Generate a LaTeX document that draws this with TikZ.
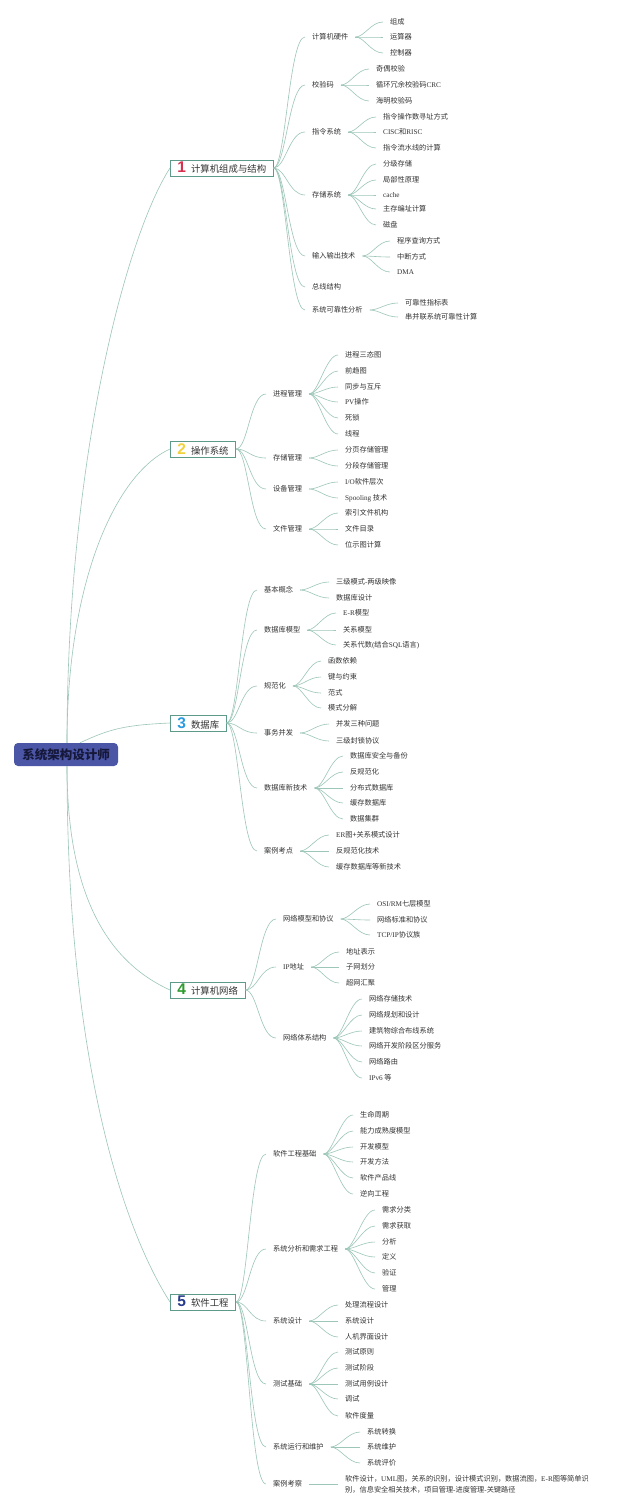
\documentclass[tikz,border=0pt]{standalone}
\usepackage{fontspec}
\setmainfont{Noto Sans CJK SC}
\newfontfamily\lat{Liberation Serif}
\newfontfamily\numf{Liberation Sans}
\definecolor{rootc}{HTML}{4B56A6}
\definecolor{roott}{HTML}{16183A}
\definecolor{boxc}{HTML}{5E9A8A}
\definecolor{linec}{HTML}{9CC6B8}
\definecolor{txtc}{HTML}{333333}
\definecolor{nA}{HTML}{D9304F}
\definecolor{nB}{HTML}{F2D23C}
\definecolor{nC}{HTML}{2B9BE0}
\definecolor{nD}{HTML}{2E9B2E}
\definecolor{nE}{HTML}{263A8A}
\tikzset{
  txt/.style={anchor=west, xshift=-7pt, inner xsep=7pt, inner ysep=1pt,
    font=\fontsize{7.2}{8.5}\selectfont, text=txtc},
  cat/.style={draw=boxc, line width=0.8pt, fill=white, anchor=west,
    minimum height=16pt, inner xsep=7pt, inner ysep=0pt,
    font=\fontsize{9.4}{11}\selectfont, text=txtc},
  rootbox/.style={fill=rootc, rounded corners=4pt, minimum width=104pt,
    minimum height=23pt, inner sep=0pt, text=roott,
    font=\fontsize{12.5}{14}\selectfont\bfseries},
  conn/.style={draw=linec, line width=0.6pt},
  cb/.style={out=0, in=180, out distance=12pt, in distance=16pt},
  lb/.style={out=0, in=180, out distance=9pt, in distance=12pt}
}
\newcommand\numb[2]{{\numf\bfseries\fontsize{15.5}{15}\selectfont\color{#1}#2}\hspace{5pt}}
\newcommand\subt[5]{\node[txt] (#2) at (#3,#4) {#5};\draw[conn] (#1.east) to[cb] (#2.west);}
\newcommand\lfn[5]{\node[txt] (#2) at (#3,#4) {#5};\draw[conn] (#1.east) to[lb] (#2.west);}
\begin{document}
\begin{tikzpicture}[x=1pt,y=-1pt]
\useasboundingbox (0,0) rectangle (640,1510);
\fill[white] (0,0) rectangle (640,1510);

% root
\node[rootbox] (root) at (66,754.5) {系统架构设计师};
\coordinate (rt) at ([xshift=1pt]root.north);
\coordinate (rt3) at ([xshift=14pt]root.north);
\coordinate (rb) at ([xshift=1pt]root.south);

% categories
\node[cat] (c1) at (170,168) {\numb{nA}{1}计算机组成与结构};
\node[cat] (c2) at (170,449) {\numb{nB}{2}操作系统};
\node[cat] (c3) at (170,723) {\numb{nC}{3}数据库};
\node[cat] (c4) at (170,990) {\numb{nD}{4}计算机网络};
\node[cat] (c5) at (170,1302) {\numb{nE}{5}软件工程};

\draw[conn] (rt) .. controls +(0,-280) and +(-45,70) .. (c1.west);
\draw[conn] (rt) .. controls +(0,-160) and +(-55,25) .. (c2.west);
\draw[conn] (rt3) .. controls +(30,-14) and +(-45,2) .. (c3.west);
\draw[conn] (rb) .. controls +(0,140) and +(-55,-25) .. (c4.west);
\draw[conn] (rb) .. controls +(0,300) and +(-45,-70) .. (c5.west);

% ---- section 1
\subt{c1}{s11}{312}{37}{计算机硬件}
\lfn{s11}{l111}{390}{22}{组成}
\lfn{s11}{l112}{390}{37}{运算器}
\lfn{s11}{l113}{390}{53}{控制器}
\subt{c1}{s12}{312}{85}{校验码}
\lfn{s12}{l121}{376}{69}{奇偶校验}
\lfn{s12}{l122}{376}{85}{循环冗余校验码{\lat CRC}}
\lfn{s12}{l123}{376}{101}{海明校验码}
\subt{c1}{s13}{312}{132}{指令系统}
\lfn{s13}{l131}{383}{117}{指令操作数寻址方式}
\lfn{s13}{l132}{383}{132}{{\lat CISC}和{\lat RISC}}
\lfn{s13}{l133}{383}{148}{指令流水线的计算}
\subt{c1}{s14}{312}{195}{存储系统}
\lfn{s14}{l141}{383}{164}{分级存储}
\lfn{s14}{l142}{383}{180}{局部性原理}
\lfn{s14}{l143}{383}{195}{{\lat cache}}
\lfn{s14}{l144}{383}{209}{主存编址计算}
\lfn{s14}{l145}{383}{225}{磁盘}
\subt{c1}{s15}{312}{256}{输入输出技术}
\lfn{s15}{l151}{397}{241}{程序查询方式}
\lfn{s15}{l152}{397}{257}{中断方式}
\lfn{s15}{l153}{397}{272}{{\lat DMA}}
\subt{c1}{s16}{312}{287}{总线结构}
\subt{c1}{s17}{312}{310}{系统可靠性分析}
\lfn{s17}{l171}{405}{303}{可靠性指标表}
\lfn{s17}{l172}{405}{317}{串并联系统可靠性计算}

% ---- section 2
\subt{c2}{s21}{273}{394}{进程管理}
\lfn{s21}{l211}{345}{355}{进程三态图}
\lfn{s21}{l212}{345}{371}{前趋图}
\lfn{s21}{l213}{345}{387}{同步与互斥}
\lfn{s21}{l214}{345}{402}{{\lat PV}操作}
\lfn{s21}{l215}{345}{418}{死锁}
\lfn{s21}{l216}{345}{434}{线程}
\subt{c2}{s22}{273}{458}{存储管理}
\lfn{s22}{l221}{345}{450}{分页存储管理}
\lfn{s22}{l222}{345}{466}{分段存储管理}
\subt{c2}{s23}{273}{489}{设备管理}
\lfn{s23}{l231}{345}{482}{{\lat I/O}软件层次}
\lfn{s23}{l232}{345}{498}{{\lat Spooling} 技术}
\subt{c2}{s24}{273}{529}{文件管理}
\lfn{s24}{l241}{345}{513}{索引文件机构}
\lfn{s24}{l242}{345}{529}{文件目录}
\lfn{s24}{l243}{345}{545}{位示图计算}

% ---- section 3
\subt{c3}{s31}{264}{590}{基本概念}
\lfn{s31}{l311}{336}{582}{三级模式{\lat -}两级映像}
\lfn{s31}{l312}{336}{598}{数据库设计}
\subt{c3}{s32}{264}{630}{数据库模型}
\lfn{s32}{l321}{343}{613}{{\lat E-R}模型}
\lfn{s32}{l322}{343}{630}{关系模型}
\lfn{s32}{l323}{343}{645}{关系代数{\lat (}结合{\lat SQL}语言{\lat )}}
\subt{c3}{s33}{264}{686}{规范化}
\lfn{s33}{l331}{328}{661}{函数依赖}
\lfn{s33}{l332}{328}{677}{键与约束}
\lfn{s33}{l333}{328}{693}{范式}
\lfn{s33}{l334}{328}{708}{模式分解}
\subt{c3}{s34}{264}{733}{事务并发}
\lfn{s34}{l341}{336}{724}{并发三种问题}
\lfn{s34}{l342}{336}{741}{三级封锁协议}
\subt{c3}{s35}{264}{788}{数据库新技术}
\lfn{s35}{l351}{350}{756}{数据库安全与备份}
\lfn{s35}{l352}{350}{772}{反规范化}
\lfn{s35}{l353}{350}{788}{分布式数据库}
\lfn{s35}{l354}{350}{803}{缓存数据库}
\lfn{s35}{l355}{350}{819}{数据集群}
\subt{c3}{s36}{264}{851}{案例考点}
\lfn{s36}{l361}{336}{835}{{\lat ER}图+关系模式设计}
\lfn{s36}{l362}{336}{851}{反规范化技术}
\lfn{s36}{l363}{336}{867}{缓存数据库等新技术}

% ---- section 4
\subt{c4}{s41}{283}{919}{网络模型和协议}
\lfn{s41}{l411}{377}{904}{{\lat OSI/RM}七层模型}
\lfn{s41}{l412}{377}{920}{网络标准和协议}
\lfn{s41}{l413}{377}{935}{{\lat TCP/IP}协议族}
\subt{c4}{s42}{283}{967}{{\lat IP}地址}
\lfn{s42}{l421}{346}{952}{地址表示}
\lfn{s42}{l422}{346}{967}{子网划分}
\lfn{s42}{l423}{346}{983}{超网汇聚}
\subt{c4}{s43}{283}{1038}{网络体系结构}
\lfn{s43}{l431}{369}{999}{网络存储技术}
\lfn{s43}{l432}{369}{1015}{网络规划和设计}
\lfn{s43}{l433}{369}{1031}{建筑物综合布线系统}
\lfn{s43}{l434}{369}{1046}{网络开发阶段区分服务}
\lfn{s43}{l435}{369}{1062}{网络路由}
\lfn{s43}{l436}{369}{1078}{{\lat IPv6} 等}

% ---- section 5
\subt{c5}{s51}{273}{1154}{软件工程基础}
\lfn{s51}{l511}{360}{1115}{生命周期}
\lfn{s51}{l512}{360}{1131}{能力成熟度模型}
\lfn{s51}{l513}{360}{1147}{开发模型}
\lfn{s51}{l514}{360}{1162}{开发方法}
\lfn{s51}{l515}{360}{1178}{软件产品线}
\lfn{s51}{l516}{360}{1194}{逆向工程}
\subt{c5}{s52}{273}{1249}{系统分析和需求工程}
\lfn{s52}{l521}{382}{1210}{需求分类}
\lfn{s52}{l522}{382}{1226}{需求获取}
\lfn{s52}{l523}{382}{1242}{分析}
\lfn{s52}{l524}{382}{1257}{定义}
\lfn{s52}{l525}{382}{1273}{验证}
\lfn{s52}{l526}{382}{1289}{管理}
\subt{c5}{s53}{273}{1321}{系统设计}
\lfn{s53}{l531}{345}{1305}{处理流程设计}
\lfn{s53}{l532}{345}{1321}{系统设计}
\lfn{s53}{l533}{345}{1337}{人机界面设计}
\subt{c5}{s54}{273}{1384}{测试基础}
\lfn{s54}{l541}{345}{1352}{测试原则}
\lfn{s54}{l542}{345}{1368}{测试阶段}
\lfn{s54}{l543}{345}{1384}{测试用例设计}
\lfn{s54}{l544}{345}{1399}{调试}
\lfn{s54}{l545}{345}{1416}{软件度量}
\subt{c5}{s55}{273}{1447}{系统运行和维护}
\lfn{s55}{l551}{367}{1432}{系统转换}
\lfn{s55}{l552}{367}{1447}{系统维护}
\lfn{s55}{l553}{367}{1463}{系统评价}
\subt{c5}{s56}{273}{1484}{案例考察}
\node[txt, align=left, font=\fontsize{7.2}{11}\selectfont] (l561) at (345,1484)
  {软件设计，{\lat UML}图，关系的识别，设计模式识别，数据流图，{\lat E-R}图等简单识\\别，信息安全相关技术，项目管理{\lat -}进度管理{\lat -}关键路径};
\draw[conn] (s56.east) -- (l561.west);
\end{tikzpicture}
\end{document}
